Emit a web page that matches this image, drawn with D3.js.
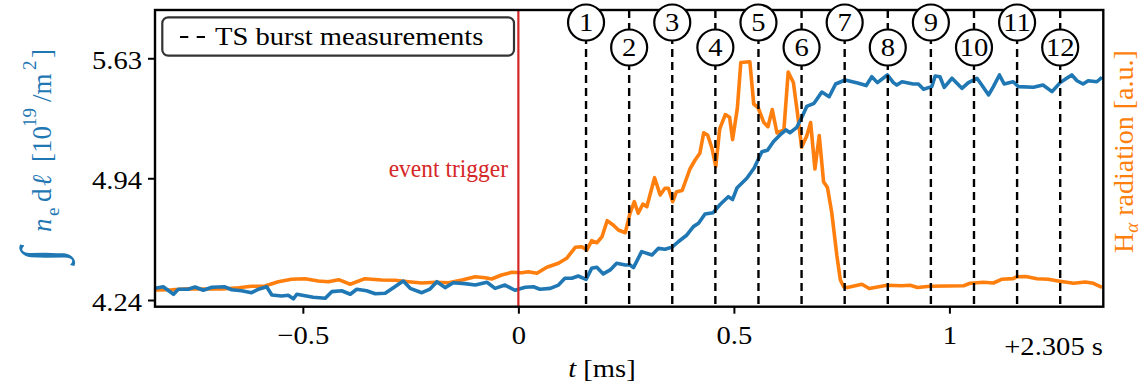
<!DOCTYPE html>
<html><head><meta charset="utf-8">
<script src="https://cdn.jsdelivr.net/npm/d3@7"></script>
<style>
body{margin:0;background:#fff;}
svg{display:block;font-family:"Liberation Serif","Times New Roman",serif;}
</style></head><body><svg id="c" width="1145" height="387"></svg>
<script>
// ---- data ----
const tNe=[-0.843,-0.824,-0.800,-0.789,-0.766,-0.750,-0.731,-0.711,-0.681,-0.665,
-0.642,-0.619,-0.603,-0.584,-0.572,-0.549,-0.534,-0.522,-0.514,-0.495,
-0.476,-0.448,-0.433,-0.410,-0.390,-0.375,-0.352,-0.332,-0.309,-0.290,
-0.267,-0.251,-0.224,-0.205,-0.189,-0.170,-0.151,-0.124,-0.100,-0.073,
-0.054,-0.031,-0.008,0.016,0.035,0.050,0.074,0.093,0.108,0.124,
0.139,0.157,0.170,0.182,0.197,0.213,0.228,0.248,0.259,0.267,
0.286,0.310,0.325,0.340,0.356,0.371,0.391,0.406,0.418,0.433,
0.452,0.468,0.487,0.497,0.507,0.530,0.547,0.565,0.578,0.592,
0.607,0.621,0.630,0.646,0.659,0.669,0.686,0.704,0.721,0.736,
0.758,0.787,0.807,0.820,0.833,0.856,0.870,0.878,0.890,0.916,
0.928,0.940,0.959,0.967,0.978,0.988,1.006,1.029,1.044,1.064,
1.075,1.091,1.102,1.116,1.127,1.148,1.160,1.195,1.217,1.238,
1.257,1.272,1.284,1.296,1.310,1.322,1.342,1.354];
const ne=[4.307,4.316,4.273,4.302,4.302,4.315,4.296,4.313,4.316,4.299,
4.293,4.282,4.302,4.316,4.269,4.263,4.267,4.247,4.273,4.265,
4.256,4.250,4.288,4.293,4.273,4.302,4.293,4.276,4.279,4.311,
4.349,4.307,4.282,4.303,4.345,4.311,4.339,4.334,4.326,4.342,
4.307,4.326,4.296,4.313,4.316,4.302,4.307,4.326,4.365,4.365,
4.378,4.359,4.422,4.428,4.390,4.413,4.451,4.441,4.441,4.426,
4.518,4.499,4.537,4.532,4.543,4.575,4.614,4.662,4.681,4.735,
4.742,4.789,4.834,4.818,4.884,4.940,4.999,5.093,5.101,5.151,
5.189,5.218,5.202,5.233,5.298,5.353,5.371,5.436,5.409,5.482,
5.505,5.488,5.473,5.524,5.490,5.534,5.490,5.476,5.495,5.482,
5.482,5.452,5.467,5.528,5.524,5.463,5.515,5.457,5.490,5.515,
5.476,5.419,5.467,5.534,5.482,5.495,5.467,5.463,5.476,5.438,
5.490,5.515,5.534,5.501,5.482,5.501,5.495,5.521];
const tHa=[-0.843,-0.804,-0.766,-0.727,-0.688,-0.649,-0.619,-0.588,-0.557,-0.526,
-0.495,-0.464,-0.441,-0.417,-0.390,-0.356,-0.317,-0.286,-0.255,-0.224,
-0.193,-0.162,-0.131,-0.100,-0.077,-0.062,-0.039,-0.015,0.008,0.023,
0.043,0.066,0.093,0.112,0.132,0.147,0.159,0.170,0.182,0.194,
0.206,0.220,0.232,0.248,0.259,0.269,0.278,0.289,0.298,0.316,
0.329,0.340,0.348,0.358,0.367,0.380,0.398,0.410,0.421,0.430,
0.439,0.449,0.458,0.467,0.480,0.490,0.497,0.508,0.516,0.537,
0.546,0.556,0.569,0.579,0.589,0.600,0.616,0.626,0.638,0.648,
0.657,0.669,0.678,0.688,0.698,0.708,0.717,0.727,0.739,0.747,
0.755,0.763,0.797,0.814,0.855,0.889,0.909,0.926,0.955,0.994,
1.033,1.048,1.079,1.102,1.121,1.148,1.157,1.177,1.203,1.229,
1.252,1.264,1.288,1.315,1.334,1.354];
const ha=[0.563,0.573,0.607,0.597,0.597,0.640,0.688,0.698,0.843,0.923,
0.944,0.866,0.843,0.910,0.755,0.944,0.900,0.890,0.843,0.799,
0.822,0.809,0.900,1.011,0.977,0.934,1.068,1.159,1.146,1.180,
1.126,1.328,1.463,1.631,2.002,2.022,1.911,2.224,2.157,2.359,
2.899,2.754,2.585,2.494,3.148,3.539,3.148,3.461,3.370,4.348,
3.765,3.991,3.991,3.539,3.876,3.916,4.641,4.944,5.170,5.864,
5.787,5.349,4.719,5.989,6.475,6.383,5.632,6.687,8.230,8.258,
6.832,6.714,6.218,6.067,6.643,5.854,5.956,7.911,7.556,6.461,
5.372,5.753,6.208,4.641,5.770,4.213,4.018,3.175,1.709,0.900,
0.664,0.647,0.758,0.613,0.721,0.708,0.721,0.647,0.688,0.698,
0.708,0.789,0.822,0.799,0.923,0.947,1.011,1.015,0.940,0.923,
0.866,0.839,0.789,0.832,0.789,0.654];
const burstTimes=[0.157,0.257,0.357,0.457,0.557,0.657,0.757,0.857,0.957,1.057,1.157,1.257];
const burstLabels=["1","2","3","4","5","6","7","8","9","10","11","12"];
const xTicks=[-0.5,0,0.5,1];
const xTickLabels=["\u22120.5","0","0.5","1"];
const yTicks=[4.24,4.94,5.63];
const yTickLabels=["4.24","4.94","5.63"];
const triggerTime=0;

// ---- layout ----
const L=155,R=1103.3,T=10,B=306.7,SX=1.1,FS=26;
const BLUE="#1f77b4",ORANGE="#ff7f0e",RED="#d62728";
const x=d3.scaleLinear().domain([-0.843,1.357]).range([L,R]);
const y=d3.scaleLinear().domain([4.2015,5.9076]).range([B,T]);
const yh=d3.scaleLinear().domain([0,10]).range([B,T]);
const svg=d3.select("#c");

svg.append("defs").append("clipPath").attr("id","pc")
  .append("rect").attr("x",L).attr("y",T).attr("width",R-L).attr("height",B-T);

const plot=svg.append("g").attr("clip-path","url(#pc)");
const lineHa=d3.line().x(d=>x(d[0])).y(d=>yh(d[1]));
const lineNe=d3.line().x(d=>x(d[0])).y(d=>y(d[1]));
plot.append("path").datum(d3.zip(tHa,ha)).attr("d",lineHa)
  .attr("fill","none").attr("stroke",ORANGE).attr("stroke-width",3.6).attr("stroke-linejoin","round");
plot.append("path").datum(d3.zip(tNe,ne)).attr("d",lineNe)
  .attr("fill","none").attr("stroke",BLUE).attr("stroke-width",3.6).attr("stroke-linejoin","round");
plot.append("line").attr("x1",x(triggerTime)).attr("x2",x(triggerTime)).attr("y1",T).attr("y2",B)
  .attr("stroke",RED).attr("stroke-width",2.2);
plot.selectAll("line.burst").data(burstTimes).join("line").attr("class","burst")
  .attr("x1",d=>x(d)).attr("x2",d=>x(d)).attr("y1",T).attr("y2",B)
  .attr("stroke","#000").attr("stroke-width",2.4).attr("stroke-dasharray","8,5");

// frame
svg.append("rect").attr("x",L).attr("y",T).attr("width",R-L).attr("height",B-T)
  .attr("fill","none").attr("stroke","#000").attr("stroke-width",2.4);

function stext(g,px,py,str,anchor,color,size,sx){
  return g.append("text").attr("transform",`translate(${px},${py}) scale(${sx||SX},1)`)
    .attr("text-anchor",anchor||"start").attr("fill",color||"#000")
    .attr("font-size",size||FS).text(str);
}

// x axis
const xa=svg.append("g").attr("transform",`translate(0,${B})`)
  .call(d3.axisBottom(x).tickValues(xTicks).tickFormat((d,i)=>xTickLabels[i]).tickSize(7).tickSizeOuter(0));
xa.select(".domain").remove();
xa.selectAll(".tick line").attr("stroke","#000").attr("stroke-width",2);
xa.selectAll(".tick text").attr("y",0).attr("dy",0).attr("font-size",FS)
  .attr("font-family","Liberation Serif").attr("fill","#000")
  .attr("transform",`translate(0,37) scale(${SX},1)`);

// y axis (left)
const ya=svg.append("g").attr("transform",`translate(${L},0)`)
  .call(d3.axisLeft(y).tickValues(yTicks).tickFormat((d,i)=>yTickLabels[i]).tickSize(7).tickSizeOuter(0));
ya.select(".domain").remove();
ya.selectAll(".tick line").attr("stroke","#000").attr("stroke-width",2);
ya.selectAll(".tick text").attr("x",0).attr("dy",0).attr("font-size",FS)
  .attr("font-family","Liberation Serif").attr("fill","#000")
  .attr("transform",`translate(-13,10) scale(${SX},1)`);

// circles with numbers
const cg=svg.selectAll("g.bl").data(burstTimes).join("g").attr("class","bl")
  .attr("transform",(d,i)=>`translate(${x(d)},${i%2===0?22.5:47.5})`);
cg.append("circle").attr("r",18).attr("fill","#fff").attr("stroke","#000").attr("stroke-width",2.2);
cg.append("text").attr("transform",`translate(0,8.5) scale(${SX},1)`).attr("text-anchor","middle")
  .attr("font-size",FS).text((d,i)=>burstLabels[i]);

// legend
const lg=svg.append("g");
lg.append("rect").attr("x",162.3).attr("y",17.3).attr("width",351.7).attr("height",38.4)
  .attr("rx",6).attr("fill","#fff").attr("stroke","#333").attr("stroke-width",2.2);
lg.append("line").attr("x1",180).attr("x2",205.5).attr("y1",37).attr("y2",37)
  .attr("stroke","#000").attr("stroke-width",2.2).attr("stroke-dasharray","8.3,8.4");
stext(lg,215,44.5,"TS burst measurements");

// event trigger
stext(svg,508,177,"event trigger","end",RED,25,0.94);

// x label
const xl=svg.append("text").attr("transform",`translate(602,377) scale(${SX},1)`)
  .attr("text-anchor","middle").attr("font-size",FS);
xl.append("tspan").attr("font-style","italic").text("t");
xl.append("tspan").text(" [ms]");
stext(svg,1103,355,"+2.305 s","end");

// left label (rotated, pieces placed along the axis)
const ylParts=[
  {s:"\u222B",u:263,v:9,fs:57,it:false},
  {s:"n",u:232,v:0,fs:27,it:true},
  {s:"e",u:216,v:8,fs:19,it:false},
  {s:"d",u:202,v:0,fs:27,it:false},
  {s:"\u2113",u:186,v:0,fs:27,it:true},
  {s:"[10",u:162,v:0,fs:27,it:false},
  {s:"19",u:127,v:-15,fs:19,it:false},
  {s:"/m",u:102,v:0,fs:27,it:false},
  {s:"2",u:70,v:-15,fs:19,it:false},
  {s:"]",u:58,v:0,fs:27,it:false}
];
const ylg=svg.append("g").attr("transform","translate(51,0) rotate(-90)").attr("fill",BLUE);
ylg.selectAll("text").data(ylParts).join("text")
  .attr("x",d=>-d.u).attr("y",d=>d.v).attr("font-size",d=>d.fs)
  .attr("font-style",d=>d.it?"italic":"normal").text(d=>d.s);

// right label
const rl=svg.append("text").attr("transform","translate(1133.3,253) rotate(-90)")
  .attr("text-anchor","start").attr("font-size",28).attr("fill",ORANGE);
rl.append("tspan").text("H");
rl.append("tspan").attr("font-size",19).attr("font-style","italic").attr("dy",5).text("\u03B1");
rl.append("tspan").attr("dy",-5).text(" radiation [a.u.]");
</script></body></html>
